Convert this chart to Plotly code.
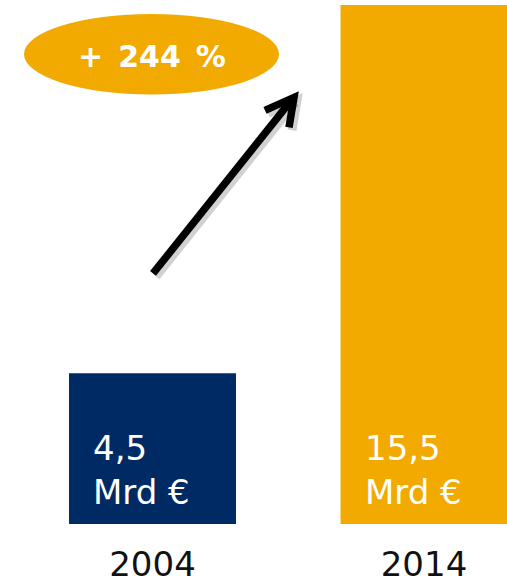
import plotly.graph_objects as go

# ---- data ----
years = ["2004", "2014"]
values = [4.5, 15.5]
value_labels = ["4,5", "15,5"]
unit_label = "Mrd €"
growth_label = "+\u2002244\u2002%"
bar_colors = ["#002A64", "#F2AA00"]

W, H = 507, 584
B = 57
PH = H - B  # plot area height


def px(x):
    return x / W


def py(y):
    return 1 - y / PH


fig = go.Figure()
fig.add_trace(go.Bar(
    x=[0, 1], y=values, width=0.615,
    marker=dict(color=bar_colors, line=dict(width=0)),
    hoverinfo="skip",
))

annotations = []
for i, (vl, xs) in enumerate(zip(value_labels, [-62, -61])):
    annotations.append(dict(x=i, y=py(451), xref="x", yref="paper", text=vl,
                            xanchor="left", yanchor="middle", xshift=xs, showarrow=False,
                            font=dict(family="DejaVu Sans", size=34, color="white")))
    annotations.append(dict(x=i, y=py(495), xref="x", yref="paper", text=unit_label,
                            xanchor="left", yanchor="middle", xshift=xs, showarrow=False,
                            font=dict(family="DejaVu Sans", size=34, color="white")))

annotations.append(dict(x=px(152), y=py(57), xref="paper", yref="paper",
                        text="<b>" + growth_label + "</b>", showarrow=False,
                        xanchor="center", yanchor="middle",
                        font=dict(family="DejaVu Sans", size=30, color="white")))

shapes = [
    dict(type="circle", xref="paper", yref="paper",
         x0=px(24), x1=px(279), y0=py(95), y1=py(14),
         fillcolor="#F2AA00", line=dict(width=0), layer="below"),
]


def path(points):
    return "M " + " L ".join(f"{px(a):.5f},{py(b):.5f}" for a, b in points)


shaft = [(153, 275), (292, 100)]
head = [(265, 111), (294, 98), (289, 128)]
for dx, dy, col, w in [(3, 3, "rgba(0,0,0,0.18)", 9), (0, 0, "black", 7.5)]:
    shapes.append(dict(type="path", xref="paper", yref="paper",
                       path=path([(a + dx, b + dy) for a, b in shaft]),
                       line=dict(color=col, width=w)))
    shapes.append(dict(type="path", xref="paper", yref="paper",
                       path=path([(a + dx, b + dy) for a, b in head]),
                       line=dict(color=col, width=w)))

fig.update_layout(
    width=W, height=H,
    margin=dict(l=0, r=0, t=0, b=B, pad=0),
    paper_bgcolor="white", plot_bgcolor="white",
    showlegend=False,
    annotations=annotations,
    shapes=shapes,
    xaxis=dict(range=[-0.5617, 1.3057], tickmode="array", tickvals=[0, 1], ticktext=years,
               showgrid=False, zeroline=False, showline=False, ticks="",
               tickfont=dict(family="DejaVu Sans", size=34, color="#111111"),
               ticklabelstandoff=17, fixedrange=True),
    yaxis=dict(range=[0, 15.648], visible=False, showgrid=False, zeroline=False, fixedrange=True),
)

fig.write_html("out.html", config={"displayModeBar": False},
               post_script="document.body.style.margin='0';document.body.style.overflow='hidden';")
